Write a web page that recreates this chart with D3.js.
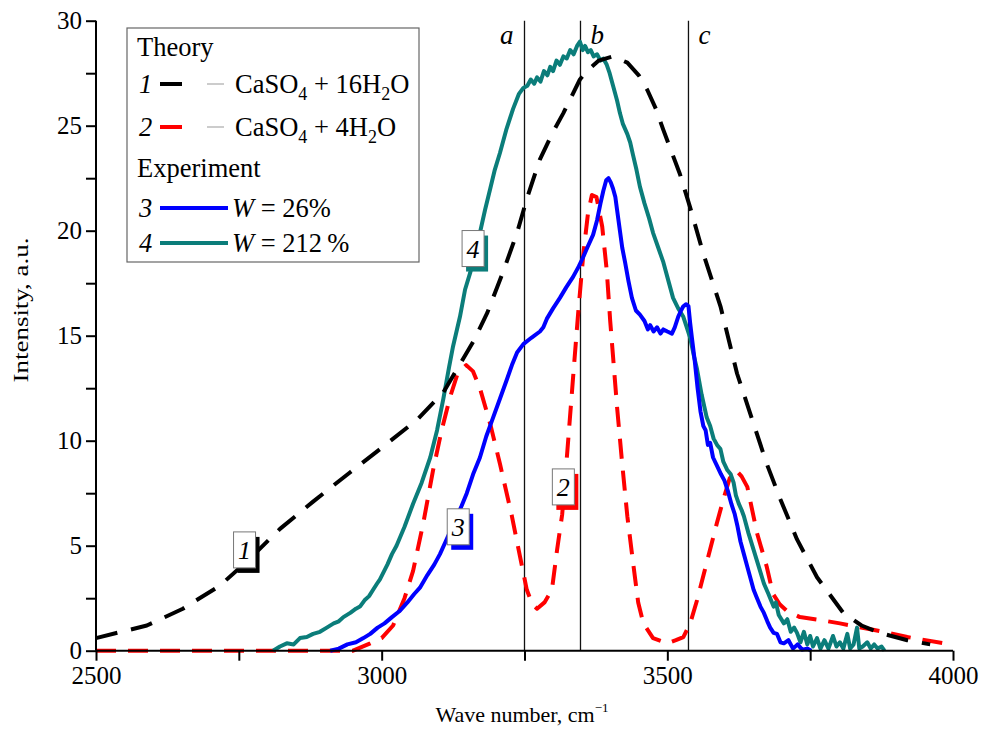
<!DOCTYPE html>
<html>
<head>
<meta charset="utf-8">
<script src="https://cdn.jsdelivr.net/npm/d3@7"></script>
<style>
  html, body { margin: 0; padding: 0; background: #fff; }
  svg { display: block; }
  text { font-family: "Liberation Serif", "Times New Roman", serif; fill: #000; }
</style>
</head>
<body>
<svg id="chart" width="982" height="729"></svg>
<script>
// Spectra: [wave number (cm^-1), intensity (a.u.)]
const theory16H2O = [
  [2500,0.6],[2589,1.2],[2652,2.0],[2717,3.1],[2770,4.4],[2822,5.8],[2880,7.1],[2945,8.5],
  [2997,9.6],[3062,11.0],[3108,12.3],[3160,14.7],[3185,16.1],[3212,18.0],[3237,19.9],[3255,21.6],
  [3277,23.4],[3298,24.6],[3318,25.6],[3347,27.2],[3359,27.6],[3380,28.1],[3405,28.3],[3430,28.0],
  [3450,27.4],[3465,26.7],[3480,25.8],[3493,24.8],[3522,22.7],[3540,21.1],[3563,18.9],[3593,16.4],
  [3622,13.2],[3651,10.8],[3674,8.9],[3698,7.2],[3727,5.3],[3762,3.5],[3808,1.8],[3840,1.2],
  [3872,0.85],[3920,0.5],[3960,0.3]
];

const theory4H2O = [
  [2500,0],[2950,0],[2980,0.35],[3000,0.6],[3020,1.2],[3040,2.5],[3055,3.8],[3073,6.1],[3090,8.6],
  [3105,10.5],[3120,12.1],[3133,13.2],[3148,13.6],[3160,13.3],[3172,12.5],[3190,10.8],[3207,8.9],
  [3228,6.4],[3242,4.5],[3254,2.9],[3264,2.2],[3272,2.0],[3285,2.3],[3298,2.9],[3307,4.8],[3316,6.5],
  [3325,9.5],[3335,13.0],[3344,16.1],[3353,18.9],[3361,20.8],[3368,21.7],[3376,21.6],[3386,20.2],
  [3394,18.1],[3400,15.7],[3405,14.0],[3412,11.6],[3421,8.9],[3430,6.4],[3440,4.2],[3449,2.3],
  [3458,1.3],[3475,0.6],[3500,0.35],[3515,0.5],[3528,0.65],[3540,1.3],[3552,2.4],[3569,4.2],
  [3587,6.1],[3598,7.2],[3609,8.2],[3620,8.6],[3630,8.3],[3640,7.8],[3657,5.6],[3674,4.0],
  [3685,2.7],[3697,2.2],[3709,1.9],[3732,1.6],[3770,1.45],[3802,1.3],[3860,1.0],[3920,0.65],[3995,0.3]
];

const expW26 = [
  [2910,0],[2925,0.1],[2940,0.3],[2955,0.4],[2968,0.6],[2980,0.8],[2993,1.1],[3005,1.3],[3018,1.6],
  [3032,1.9],[3045,2.3],[3057,2.7],[3067,3.0],[3080,3.6],[3092,4.1],[3102,4.6],[3112,5.2],[3122,5.8],
  [3132,6.4],[3140,6.9],[3149,7.5],[3160,8.4],[3172,9.2],[3183,10.2],[3195,11.1],[3207,12.0],
  [3219,12.9],[3228,13.6],[3237,14.2],[3248,14.6],[3262,14.9],[3277,15.2],[3283,15.4],[3289,15.8],
  [3300,16.3],[3312,16.8],[3323,17.3],[3335,17.8],[3345,18.3],[3352,18.7],[3360,19.2],[3370,19.8],
  [3377,20.5],[3383,21.3],[3388,21.9],[3393,22.4],[3397,22.5],[3401,22.3],[3405,22.0],[3409,21.6],
  [3412,21.0],[3417,20.0],[3421,19.2],[3426,18.5],[3432,17.6],[3438,16.8],[3445,16.2],[3452,16.0],
  [3460,15.7],[3466,15.3],[3470,15.5],[3476,15.2],[3482,15.4],[3488,15.1],[3493,15.3],[3500,15.2],
  [3508,15.1],[3513,15.4],[3519,15.9],[3524,16.2],[3528,16.4],[3533,16.5],[3537,16.4],[3540,15.6],
  [3543,14.9],[3548,13.8],[3553,12.5],[3558,11.4],[3563,10.7],[3567,10.5],[3571,9.8],[3575,9.9],
  [3580,9.2],[3587,8.8],[3594,8.4],[3600,8.1],[3606,7.6],[3612,7.0],[3618,6.5],[3623,5.9],[3628,5.2],
  [3634,4.6],[3640,4.0],[3646,3.4],[3651,2.9],[3657,2.5],[3663,2.1],[3669,1.8],[3675,1.4],[3680,1.1],
  [3686,0.85],[3692,0.8],[3698,0.4],[3704,0.35],[3712,0.5],[3720,0.1],[3728,0.3],[3736,0.05],
  [3745,0.1],[3752,0]
];

const expW212 = [
  [2810,0],[2822,0.2],[2834,0.35],[2846,0.3],[2857,0.6],[2869,0.65],[2880,0.8],[2892,0.9],[2904,1.1],
  [2916,1.3],[2925,1.4],[2933,1.6],[2945,1.8],[2955,2.0],[2962,2.1],[2970,2.4],[2978,2.6],[2985,2.9],
  [2992,3.2],[2997,3.4],[3010,4.1],[3018,4.6],[3026,5.0],[3040,5.9],[3055,7.0],[3070,8.0],[3085,9.2],
  [3097,10.5],[3108,12.0],[3118,13.5],[3125,14.5],[3137,15.9],[3146,17.2],[3155,18.0],[3164,19.0],
  [3172,19.9],[3181,21.0],[3190,22.0],[3198,22.9],[3207,23.7],[3218,24.8],[3230,25.8],[3240,26.5],
  [3248,26.8],[3255,26.9],[3261,27.2],[3267,27.0],[3272,27.3],[3278,27.1],[3284,27.6],[3290,27.4],
  [3295,27.8],[3300,27.6],[3306,28.1],[3312,27.9],[3318,28.3],[3324,28.2],[3330,28.6],[3336,28.4],
  [3342,28.8],[3347,29.0],[3352,28.6],[3356,28.8],[3361,28.5],[3366,28.6],[3371,28.3],[3377,28.4],
  [3383,28.1],[3388,28.2],[3394,27.9],[3399,27.5],[3405,26.9],[3412,26.2],[3417,25.6],[3422,25.1],
  [3430,24.6],[3435,24.2],[3440,23.6],[3446,22.9],[3452,22.1],[3460,21.3],[3468,20.6],[3475,19.9],
  [3484,19.2],[3493,18.5],[3502,17.6],[3510,16.8],[3519,16.3],[3528,15.9],[3534,15.4],[3540,14.9],
  [3546,14.1],[3552,13.4],[3560,12.2],[3569,11.1],[3575,10.7],[3581,10.1],[3587,9.8],[3593,9.6],
  [3598,9.0],[3605,8.6],[3611,8.4],[3616,8.0],[3620,7.4],[3625,7.0],[3630,6.7],[3634,6.4],[3642,5.6],
  [3651,4.8],[3660,4.0],[3669,3.2],[3677,2.7],[3686,2.1],[3690,2.3],[3695,1.7],[3704,1.3],[3710,1.5],
  [3716,0.9],[3722,1.1],[3727,0.85],[3733,0.4],[3739,0.9],[3745,0.3],[3750,0.7],[3755,0.2],[3762,0.6],
  [3768,0.1],[3775,0.5],[3782,0.1],[3790,0.7],[3796,0.2],[3802,0.4],[3808,0.1],[3815,0.8],[3820,0.1],
  [3826,0.3],[3832,1.1],[3836,0.1],[3842,0.2],[3850,0.4],[3856,0.1],[3862,0.3],[3868,0.1],[3875,0.2],
  [3880,0]
];

// Reference wave numbers marked by vertical lines
const markerNames = ["a", "b", "c"];
const markerWaves = [3250, 3348, 3537];

// Axis ticks
const xTicks = [2500, 3000, 3500, 4000];
const xMinorTicks = [2750, 3250, 3750];
const yTicks = [0, 5, 10, 15, 20, 25, 30];
const yMinorTicks = [2.5, 7.5, 12.5, 17.5, 22.5, 27.5];

// Curve numbers placed beside the curves: [number, wave number, intensity]
const curveLabels = [
  ["1", 2760, 4.8],
  ["2", 3318, 7.8],
  ["3", 3134, 5.9],
  ["4", 3160, 19.15]
];

const colors = { "1": "#000000", "2": "#ff0000", "3": "#0000ff", "4": "#0b7d7a" };

const svg = d3.select("#chart");
const x = d3.scaleLinear().domain([2500, 4000]).range([96, 953]);
const y = d3.scaleLinear().domain([0, 30]).range([650.7, 20.7]);

// Vertical reference lines
svg.append("g").selectAll("line").data(markerWaves).join("line")
  .attr("x1", d => x(d)).attr("x2", d => x(d))
  .attr("y1", y(30)).attr("y2", y(0))
  .attr("stroke", "#111").attr("stroke-width", 1.3);

svg.append("g").selectAll("text").data(markerNames).join("text")
  .attr("x", (d, i) => x(markerWaves[i]) + (i === 0 ? -11 : 10))
  .attr("y", 44)
  .attr("text-anchor", (d, i) => i === 0 ? "end" : "start")
  .attr("font-style", "italic")
  .attr("font-size", 27)
  .text(d => d);

// Curves
const line = d3.line().x(d => x(d[0])).y(d => y(d[1]));
const plot = svg.append("g");

plot.append("path").datum(theory4H2O)
  .attr("d", line).attr("fill", "none")
  .attr("stroke", colors["2"]).attr("stroke-width", 4)
  .attr("stroke-dasharray", "20 12").attr("stroke-linejoin", "round");

plot.append("path").datum(expW212)
  .attr("d", line).attr("fill", "none")
  .attr("stroke", colors["4"]).attr("stroke-width", 4).attr("stroke-linejoin", "round");

plot.append("path").datum(expW26)
  .attr("d", line).attr("fill", "none")
  .attr("stroke", colors["3"]).attr("stroke-width", 4).attr("stroke-linejoin", "round");

plot.append("path").datum(theory16H2O)
  .attr("d", line).attr("fill", "none")
  .attr("stroke", colors["1"]).attr("stroke-width", 4)
  .attr("stroke-dasharray", "22 14").attr("stroke-linejoin", "round");

// Axes
const yAxis = svg.append("g").attr("transform", `translate(${x(2500)},0)`)
  .call(d3.axisLeft(y).tickValues(yTicks).tickSize(10).tickPadding(4).tickFormat(d3.format("d")));
const yMinor = svg.append("g").attr("transform", `translate(${x(2500)},0)`)
  .call(d3.axisLeft(y).tickValues(yMinorTicks).tickSize(10).tickFormat(""));
const xAxis = svg.append("g").attr("transform", `translate(0,${y(0)})`)
  .call(d3.axisBottom(x).tickValues(xTicks).tickSize(10).tickPadding(6).tickFormat(d3.format("d")));
const xMinor = svg.append("g").attr("transform", `translate(0,${y(0)})`)
  .call(d3.axisBottom(x).tickValues(xMinorTicks).tickSize(10).tickFormat(""));

[yAxis, yMinor, xAxis, xMinor].forEach(g => {
  g.select(".domain").attr("stroke", "#000").attr("stroke-width", 2);
  g.selectAll(".tick line").attr("stroke", "#000").attr("stroke-width", 2);
  g.selectAll(".tick text").attr("font-size", 25).attr("fill", "#000");
});
yMinor.select(".domain").remove();
xMinor.select(".domain").remove();
yAxis.select(".domain").attr("d", `M0,${y(30)}V${y(0)}`);
xAxis.select(".domain").attr("d", `M${x(2500)},0H${x(4000)}`);

// Axis titles
const xTitle = svg.append("text")
  .attr("x", 522).attr("y", 722).attr("text-anchor", "middle").attr("font-size", 22);
xTitle.append("tspan").text("Wave number, cm");
xTitle.append("tspan").attr("font-size", 13).attr("dy", -10).text("\u22121");

svg.append("text")
  .attr("transform", "translate(28,310) rotate(-90)")
  .attr("text-anchor", "middle").attr("font-size", 21)
  .attr("textLength", 145).attr("lengthAdjust", "spacingAndGlyphs")
  .text("Intensity, a.u.");

// Curve number boxes with coloured drop shadow
const lab = svg.append("g").selectAll("g").data(curveLabels).join("g")
  .attr("transform", d => `translate(${x(d[1])},${y(d[2])})`);
lab.append("rect").attr("x", -11 + 4).attr("y", -18 + 5).attr("width", 22).attr("height", 36)
  .attr("fill", d => colors[d[0]]);
lab.append("rect").attr("x", -11).attr("y", -18).attr("width", 22).attr("height", 36)
  .attr("fill", "#fff").attr("stroke", "#777").attr("stroke-width", 1);
lab.append("text").attr("text-anchor", "middle").attr("y", 9)
  .attr("font-style", "italic").attr("font-size", 26).text(d => d[0]);

// Legend
const leg = svg.append("g");
leg.append("rect").attr("x", 127).attr("y", 28).attr("width", 292).attr("height", 234)
  .attr("fill", "#fff").attr("stroke", "#666").attr("stroke-width", 1.2);

const legFont = 26.5;
leg.append("text").attr("x", 137).attr("y", 56).attr("font-size", legFont).text("Theory");
leg.append("text").attr("x", 137).attr("y", 177).attr("font-size", legFont).text("Experiment");

const theoryRows = [
  { id: "1", cy: 84, n: "16" },
  { id: "2", cy: 127, n: "4" }
];
theoryRows.forEach(r => {
  leg.append("text").attr("x", 139).attr("y", r.cy + 9).attr("font-size", legFont)
    .attr("font-style", "italic").text(r.id);
  leg.append("line").attr("x1", 160).attr("x2", 182).attr("y1", r.cy).attr("y2", r.cy)
    .attr("stroke", colors[r.id]).attr("stroke-width", 4);
  leg.append("line").attr("x1", 207).attr("x2", 224).attr("y1", r.cy).attr("y2", r.cy)
    .attr("stroke", "#999").attr("stroke-width", 1);
  const t = leg.append("text").attr("x", 235).attr("y", r.cy + 9).attr("font-size", legFont);
  t.append("tspan").text("CaSO");
  t.append("tspan").attr("font-size", 18).attr("dy", 7).text("4");
  t.append("tspan").attr("dy", -7).text(" + " + r.n + "H");
  t.append("tspan").attr("font-size", 18).attr("dy", 7).text("2");
  t.append("tspan").attr("dy", -7).text("O");
});

const expRows = [
  { id: "3", cy: 208, w: "26%" },
  { id: "4", cy: 243, w: "212\u2009%" }
];
expRows.forEach(r => {
  leg.append("text").attr("x", 139).attr("y", r.cy + 9).attr("font-size", legFont)
    .attr("font-style", "italic").text(r.id);
  leg.append("line").attr("x1", 160).attr("x2", 228).attr("y1", r.cy).attr("y2", r.cy)
    .attr("stroke", colors[r.id]).attr("stroke-width", 4);
  const t = leg.append("text").attr("x", 232).attr("y", r.cy + 9).attr("font-size", legFont);
  t.append("tspan").attr("font-style", "italic").text("W");
  t.append("tspan").text(" = " + r.w);
});
</script>
</body>
</html>
